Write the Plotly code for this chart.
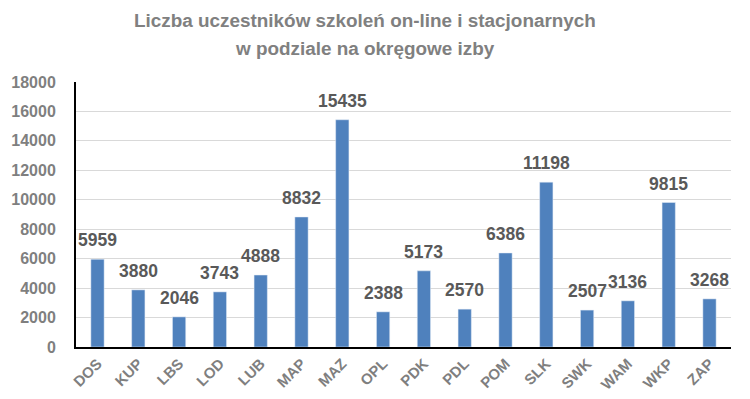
import plotly.graph_objects as go

categories = ["DOS", "KUP", "LBS", "LOD", "LUB", "MAP", "MAZ", "OPL", "PDK", "PDL",
              "POM", "SLK", "SWK", "WAM", "WKP", "ZAP"]
values = [5959, 3880, 2046, 3743, 4888, 8832, 15435, 2388, 5173, 2570,
          6386, 11198, 2507, 3136, 9815, 3268]
y_ticks = list(range(0, 18001, 2000))
title_lines = ["Liczba uczestników szkoleń on-line i stacjonarnych",
               "w podziale na okręgowe izby"]

FONT = "Liberation Sans, Arial, sans-serif"
W, H = 750, 399
OFF = 8  # page body margin offset
ML, MR, MT, MB = 76 - OFF, 19 + OFF, 82 - OFF, 52 + OFF
PW, PH = W - ML - MR, H - MT - MB

fig = go.Figure(go.Bar(
    x=categories, y=values,
    marker=dict(color="#4F81BD"),
    hoverinfo="x+y",
))

annotations = []
for i, line in enumerate(title_lines):
    ypx = 20 + 28 * i - OFF  # centre of each title line, px from top
    annotations.append(dict(
        text="<b>" + line + "</b>", showarrow=False,
        xref="paper", yref="paper",
        x=(364.5 - OFF - ML) / PW, y=1 + (MT - ypx) / PH,
        xanchor="center", yanchor="middle",
        font=dict(family=FONT, size=18.9, color="#808080"),
    ))
for c, v in zip(categories, values):
    annotations.append(dict(
        text="<b>" + str(v) + "</b>", showarrow=False,
        x=c, y=v, xref="x", yref="y",
        xanchor="center", yanchor="bottom", yshift=7,
        font=dict(family=FONT, size=17.5, color="#595959"),
    ))

fig.update_layout(
    width=W, height=H,
    paper_bgcolor="white", plot_bgcolor="white",
    margin=dict(l=ML, r=MR, t=MT, b=MB, autoexpand=False),
    bargap=0.675,
    showlegend=False,
    annotations=annotations,
    font=dict(family=FONT),
)
fig.update_xaxes(
    tickangle=-45, showline=True, linecolor="black", linewidth=2,
    tickfont=dict(family=FONT, size=15, color="#7F7F7F", weight="bold"),
    ticks="", showgrid=False, automargin=False,
)
fig.update_yaxes(
    range=[0, 18000], tickvals=y_ticks, ticktext=[str(v) for v in y_ticks],
    showline=True, linecolor="black", linewidth=2,
    gridcolor="#D9D9D9", gridwidth=1, zeroline=False,
    tickfont=dict(family=FONT, size=16, color="#7F7F7F", weight="bold"),
    ticks="", automargin=False, ticklabelstandoff=15,
)

fig.write_html("out.html")
